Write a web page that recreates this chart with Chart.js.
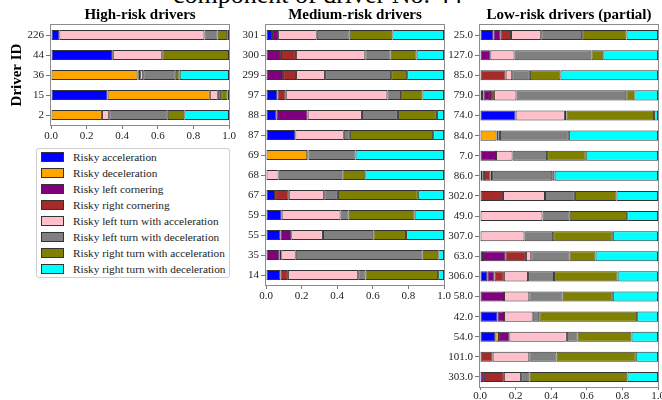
<!DOCTYPE html>
<html>
<head>
<meta charset="utf-8">
<script src="https://cdn.jsdelivr.net/npm/chart.js@4.4.0/dist/chart.umd.min.js"></script>
<style>
  html, body { margin: 0; padding: 0; background: #fff; }
  #stage { position: relative; width: 662px; height: 400px; overflow: hidden; background: #fff; }
  canvas { position: absolute; top: 0; }
  #supTitle { position: absolute; left: 173px; top: -18px; font: 26px/26px "Liberation Serif", "Times New Roman", serif; color: #000; white-space: nowrap; }
  #legend { position: absolute; left: 36px; top: 148px; width: 192px; border: 1px solid #cfcfcf; border-radius: 3px; background: #fff; }
  .item { display: flex; align-items: center; height: 16px; }
  .sw { width: 21px; height: 8px; border: 1px solid #333; margin-left: 4px; }
  .lbl { margin-left: 9px; font: 11.3px "Liberation Serif", "Times New Roman", serif; color: #222; white-space: nowrap; }
</style>
</head>
<body>
<div id="stage">
  <div id="supTitle">component of driver No. 44</div>
  <canvas id="high" width="240" height="145" style="left:0px"></canvas>
  <canvas id="medium" width="225" height="305" style="left:232px"></canvas>
  <canvas id="low" width="215" height="400" style="left:447px"></canvas>
  <div id="legend"></div>
</div>
<script>
// Behaviour categories, in stacking order
const seriesNames = [
  'Risky acceleration',
  'Risky deceleration',
  'Risky left cornering',
  'Risky right cornering',
  'Risky left turn with acceleration',
  'Risky left turn with deceleration',
  'Risky right turn with acceleration',
  'Risky right turn with deceleration'
];
const seriesColors = ['#0000ff', '#ffa500', '#800080', '#a52a2a', '#ffc0cb', '#808080', '#808000', '#00ffff'];
const xTickValues = [0, 0.2, 0.4, 0.6, 0.8, 1.0];

// High-risk drivers
const highIds   = ['226', '44', '36', '15', '2'];
const highAcc   = [0.047, 0.347, 0,     0.318, 0];
const highDec   = [0,     0,     0.486, 0.574, 0.286];
const highLCorn = [0,     0,     0.007, 0,     0];
const highRCorn = [0,     0,     0.008, 0,     0];
const highLTAcc = [0.815, 0.278, 0.017, 0.045, 0.041];
const highLTDec = [0.074, 0,     0.183, 0.019, 0.329];
const highRTAcc = [0.054, 0.375, 0.022, 0.036, 0.093];
const highRTDec = [0.010, 0,     0.277, 0.008, 0.251];

// Medium-risk drivers
const medIds   = ['301', '300', '299', '97', '88', '87', '69', '68', '67', '59', '55', '35', '14'];
const medAcc   = [0.034, 0,     0,     0.064, 0.058, 0.165, 0,     0,     0.051, 0.088, 0.082, 0,     0.082];
const medDec   = [0,     0,     0,     0,     0,     0,     0.232, 0,     0,     0,     0,     0,     0];
const medLCorn = [0.034, 0.084, 0.096, 0,     0.176, 0,     0,     0,     0,     0,     0.060, 0.075, 0];
const medRCorn = [0,     0.084, 0.073, 0.047, 0,     0,     0.007, 0,     0.077, 0,     0,     0.011, 0.041];
const medLTAcc = [0.217, 0.390, 0.163, 0.571, 0.305, 0.272, 0,     0.071, 0.199, 0.331, 0.178, 0.081, 0.395];
const medLTDec = [0.185, 0.142, 0.371, 0.077, 0.202, 0.034, 0.264, 0.358, 0.077, 0.045, 0.283, 0.713, 0.041];
const medRTAcc = [0.240, 0.146, 0.090, 0.120, 0.219, 0.468, 0,     0.129, 0.449, 0.371, 0.184, 0.088, 0.408];
const medRTDec = [0.290, 0.154, 0.207, 0.121, 0.040, 0.061, 0.497, 0.442, 0.147, 0.165, 0.213, 0.032, 0.033];

// Low-risk drivers (partial list)
const lowIds   = ['25.0', '127.0', '85.0', '79.0', '74.0', '84.0', '7.0', '86.0', '302.0', '49.0', '307.0', '63.0', '306.0', '58.0', '42.0', '54.0', '101.0', '303.0'];
const lowAcc   = [0.075, 0,     0,     0.011, 0.200, 0,     0,     0,     0,     0,     0,     0.017, 0.041, 0,     0.099, 0.086, 0,     0];
const lowDec   = [0,     0,     0,     0.009, 0,     0.093, 0,     0.013, 0,     0,     0,     0,     0,     0,     0,     0.021, 0,     0];
const lowLCorn = [0.039, 0.058, 0,     0.036, 0,     0,     0.090, 0.009, 0,     0,     0,     0.125, 0.041, 0.135, 0.036, 0.058, 0,     0.022];
const lowRCorn = [0.060, 0,     0.144, 0.022, 0,     0.012, 0,     0.037, 0.129, 0,     0,     0.116, 0.052, 0,     0,     0,     0.071, 0.112];
const lowLTAcc = [0.170, 0.136, 0.037, 0.127, 0.277, 0.007, 0.093, 0.009, 0.236, 0.351, 0.250, 0.030, 0.136, 0.142, 0.161, 0.323, 0.206, 0.097];
const lowLTDec = [0.230, 0.432, 0.099, 0.617, 0.009, 0.387, 0.194, 0.338, 0.168, 0.153, 0.161, 0.215, 0.146, 0.187, 0.037, 0.060, 0.153, 0.047];
const lowRTAcc = [0.249, 0.067, 0.172, 0.045, 0.492, 0,     0.217, 0.013, 0.234, 0.323, 0.335, 0.146, 0.357, 0.282, 0.550, 0.303, 0.445, 0.550];
const lowRTDec = [0.177, 0.307, 0.548, 0.133, 0.022, 0.501, 0.406, 0.581, 0.233, 0.173, 0.254, 0.351, 0.227, 0.254, 0.117, 0.149, 0.125, 0.172];

Chart.defaults.font.family = '"Liberation Serif", "Times New Roman", serif';
Chart.defaults.color = '#222';

// Grey box around each plotting area
const framePlugin = {
  id: 'frame',
  afterDraw(chart) {
    const { ctx, chartArea: a } = chart;
    ctx.save();
    ctx.strokeStyle = '#8c8c8c';
    ctx.lineWidth = 1;
    ctx.strokeRect(Math.round(a.left) - 0.5, Math.round(a.top) - 0.5,
                   Math.round(a.right - a.left) + 1, Math.round(a.bottom - a.top) + 1);
    ctx.restore();
  }
};

function buildDatasets(columns) {
  return columns.map((vals, i) => ({
    label: seriesNames[i],
    data: vals.map(v => (v > 0 ? v : null)),
    backgroundColor: seriesColors[i],
    borderColor: '#333',
    borderWidth: 1,
    borderSkipped: false,
    barPercentage: 0.5,
    categoryPercentage: 1.0
  }));
}

function makePanel(id, title, ids, columns, cfg) {
  return new Chart(document.getElementById(id), {
    type: 'bar',
    data: { labels: ids, datasets: buildDatasets(columns) },
    plugins: [framePlugin],
    options: {
      indexAxis: 'y',
      responsive: false,
      animation: false,
      devicePixelRatio: 1,
      layout: { padding: { left: 0, right: cfg.padRight, top: 0, bottom: 0 } },
      plugins: {
        legend: { display: false },
        tooltip: { enabled: false },
        title: {
          display: true,
          text: title,
          fullSize: false,
          color: '#000',
          font: { size: 15, weight: 'bold', lineHeight: 1 },
          padding: { top: 8, bottom: 2 }
        }
      },
      scales: {
        x: {
          type: 'linear',
          stacked: true,
          min: 0,
          max: 1,
          afterBuildTicks(s) { s.ticks = xTickValues.map(v => ({ value: v })); },
          ticks: { callback: v => Number(v).toFixed(1), font: { size: 11 }, color: '#222', padding: cfg.xPad, maxRotation: 0 },
          grid: { drawOnChartArea: false, drawTicks: true, tickLength: cfg.xTick, color: '#777' },
          border: { display: false },
          afterFit(s) { s.height = cfg.xHeight; s.paddingLeft = 0; s.paddingRight = 0; }
        },
        y: {
          type: 'category',
          stacked: true,
          ticks: { font: { size: 11 }, color: '#222', padding: 2, autoSkip: false },
          grid: { drawOnChartArea: false, drawTicks: true, tickLength: 5, color: '#777', offset: false },
          border: { display: false },
          title: {
            display: !!cfg.yTitle,
            text: cfg.yTitle || '',
            color: '#000',
            font: { size: 15, weight: 'bold', lineHeight: 1.2 },
            padding: { top: 8, bottom: 0 }
          },
          afterFit(s) { s.width = cfg.yWidth; s.paddingTop = 0; s.paddingBottom = 0; }
        }
      }
    }
  });
}

makePanel('high', 'High-risk drivers', highIds,
  [highAcc, highDec, highLCorn, highRCorn, highLTAcc, highLTDec, highRTAcc, highRTDec],
  { yWidth: 51, padRight: 11, xHeight: 20, xTick: 4, xPad: 1, yTitle: 'Driver ID' });

makePanel('medium', 'Medium-risk drivers', medIds,
  [medAcc, medDec, medLCorn, medRCorn, medLTAcc, medLTDec, medRTAcc, medRTDec],
  { yWidth: 34, padRight: 13, xHeight: 20, xTick: 4, xPad: 1 });

makePanel('low', 'Low-risk drivers (partial)', lowIds,
  [lowAcc, lowDec, lowLCorn, lowRCorn, lowLTAcc, lowLTDec, lowRTAcc, lowRTDec],
  { yWidth: 33, padRight: 4, xHeight: 13, xTick: 3, xPad: 0 });

// Shared key listing each behaviour colour
const legendEl = document.getElementById('legend');
seriesNames.forEach((name, i) => {
  const row = document.createElement('div');
  row.className = 'item';
  const sw = document.createElement('span');
  sw.className = 'sw';
  sw.style.background = seriesColors[i];
  const lbl = document.createElement('span');
  lbl.className = 'lbl';
  lbl.textContent = name;
  row.appendChild(sw);
  row.appendChild(lbl);
  legendEl.appendChild(row);
});
</script>
</body>
</html>
